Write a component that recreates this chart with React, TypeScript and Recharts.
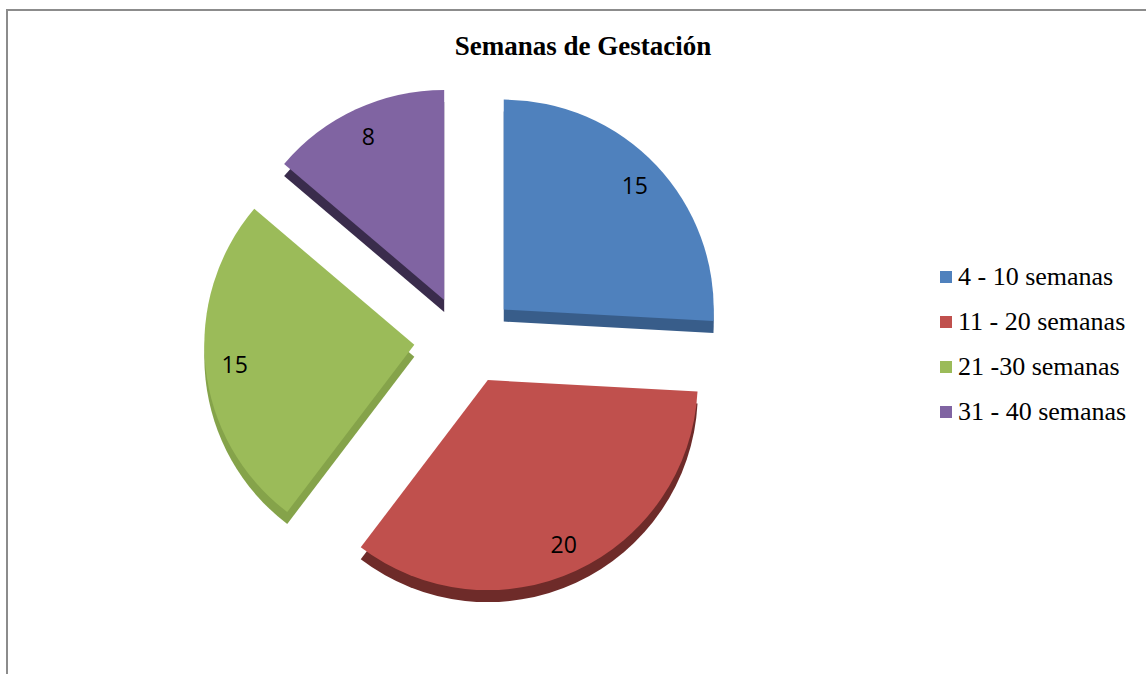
import { Cell, Legend, Pie, PieChart } from 'recharts';

const categories = ['4 - 10 semanas', '11 - 20 semanas', '21 -30 semanas', '31 - 40 semanas'];
const values = [15, 20, 15, 8];
const colors = ['#4f81bd', '#c0504d', '#9bbb59', '#8064a2'];
const sideColors = ['#385d8a', '#6e2b29', '#85a34a', '#3a2c4c'];

const data = categories.map((name, i) => ({ name, value: values[i] }));

const RADIAN = Math.PI / 180;
const CX = 466;
const CY = 340;
const R = 210;
const EXPLODE = 52;
const TILT = 0.85;
const DEPTH = 12;

const total = values.reduce((a, b) => a + b, 0);
const midAngles = values.map((v, i) => {
  const before = values.slice(0, i).reduce((a, b) => a + b, 0);
  return 90 - ((before + v / 2) / total) * 360;
});

function sliceLabel(target: number) {
  return (props: any) => {
    if (props.index !== target) return null;
    const r = props.outerRadius * 0.86;
    const x = props.cx + r * Math.cos(-props.midAngle * RADIAN);
    const y = props.cy + r * Math.sin(-props.midAngle * RADIAN);
    return (
      <text x={x} y={y} textAnchor="middle" dominantBaseline="central" fill="#000" fontSize={23}
        fontFamily="'Open Sans', 'Noto Sans', sans-serif">
        {props.value}
      </text>
    );
  };
}

function LegendBox() {
  return (
    <div style={{ fontFamily: "'Liberation Serif', 'Times New Roman', serif", fontSize: 26, color: '#000' }}>
      {categories.map((c, i) => (
        <div key={c} style={{ display: 'flex', alignItems: 'center', height: 45, whiteSpace: 'nowrap' }}>
          <span style={{ width: 12, height: 12, background: colors[i], marginRight: 6, display: 'inline-block' }} />
          {c}
        </div>
      ))}
    </div>
  );
}

const sliceX = (i: number) => CX + EXPLODE * Math.cos(midAngles[i] * RADIAN);
const sliceY = (i: number) => CY - EXPLODE * TILT * Math.sin(midAngles[i] * RADIAN);

export default function App() {
  return (
    <div style={{ position: 'absolute', left: 0, top: 0, width: 1146, height: 674, background: '#fff', overflow: 'hidden' }}>
      <div style={{ position: 'absolute', left: 6, top: 9, right: 0, bottom: 0, borderTop: '2px solid #8c8c8c', borderLeft: '2px solid #8c8c8c' }} />
      <div style={{ position: 'absolute', left: 0, top: 31, width: 1166, textAlign: 'center', fontFamily: "'Liberation Serif', 'Times New Roman', serif", fontWeight: 'bold', fontSize: 27 }}>
        Semanas de Gestación
      </div>
      <div style={{ position: 'absolute', left: 0, top: 0 }}>
        <PieChart width={1146} height={674} margin={{ top: 0, right: 0, bottom: 0, left: 0 }}>
          {values.map((_, i) => (
            <Pie key={`side-${i}`} data={data} dataKey="value" nameKey="name" isAnimationActive={false}
              cx={sliceX(i)} cy={sliceY(i) + DEPTH}
              outerRadius={R} startAngle={90} endAngle={-270} stroke="none" labelLine={false} legendType="none">
              {data.map((d, j) => (
                <Cell key={d.name} fill={j === i ? sideColors[i] : 'none'} stroke="none" />
              ))}
            </Pie>
          ))}
          {values.map((_, i) => (
            <Pie key={`main-${i}`} data={data} dataKey="value" nameKey="name" isAnimationActive={false}
              cx={sliceX(i)} cy={sliceY(i)}
              outerRadius={R} startAngle={90} endAngle={-270} stroke="none" labelLine={false}
              label={sliceLabel(i)} legendType="none">
              {data.map((d, j) => (
                <Cell key={d.name} fill={j === i ? colors[i] : 'none'} stroke="none" />
              ))}
            </Pie>
          ))}
          <Legend layout="vertical" align="right" verticalAlign="top" content={<LegendBox />}
            wrapperStyle={{ left: 940, top: 254, width: 206 }} />
        </PieChart>
      </div>
    </div>
  );
}
